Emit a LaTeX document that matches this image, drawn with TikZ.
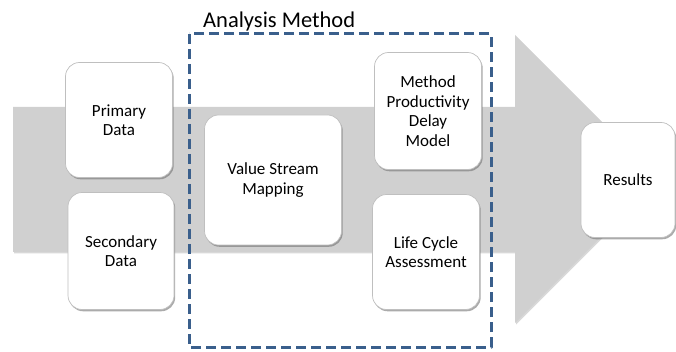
\documentclass[tikz,border=0pt]{standalone}
\usepackage{fontspec}
\setmainfont{Carlito}
\usepackage{tikz}
\usetikzlibrary{shadows}
\definecolor{arrowgrey}{RGB}{208,208,208}
\definecolor{methodblue}{RGB}{58,95,140}

\begin{document}
\begin{tikzpicture}[x=1pt,y=-1pt,line cap=round,line join=round,
  box/.style={draw=black!25,line width=0.7pt,fill=white,rounded corners=14pt,
    align=center,inner sep=2pt,font=\fontsize{17}{19.5}\selectfont,
    drop shadow={shadow xshift=1.2pt,shadow yshift=-1.8pt,fill=black!55,opacity=0.6}},
  methodframe/.style={draw=methodblue,line width=3pt,line cap=butt,dash pattern=on 10pt off 5pt}]
\useasboundingbox (0,0) rectangle (676,352);
% big grey arrow
\fill [arrowgrey,drop shadow={shadow xshift=1pt,shadow yshift=-1.5pt,fill=black!30,opacity=0.5}]
  (13,107) -- (515,107) -- (515,35) -- (659,179) -- (515,323) -- (515,252) -- (13,252) -- cycle;
% input data
\node [box,minimum width=107pt,minimum height=115pt] (primary) at (119,120) {Primary\\Data};
\node [box,minimum width=106pt,minimum height=117pt] (secondary) at (121,251) {Secondary\\Data};
% analysis
\node [box,minimum width=137pt,minimum height=130pt] (vsm) at (273,180) {Value Stream\\Mapping};
\node [box,minimum width=107pt,minimum height=117pt] (mpdm) at (428,111) {Method\\Productivity\\Delay\\Model};
\node [box,minimum width=107pt,minimum height=115pt] (lca) at (426,252) {Life Cycle\\Assessment};
% output
\node [box,minimum width=94pt,minimum height=115pt] (results) at (628,180) {Results};
% dashed frame
\path [methodframe] (189,34) rectangle (491,347);
\node [anchor=base west,inner sep=0pt,font=\fontsize{22.5}{26}\selectfont] (methodlabel) at (203,28) {Analysis Method};
\end{tikzpicture}
\end{document}
